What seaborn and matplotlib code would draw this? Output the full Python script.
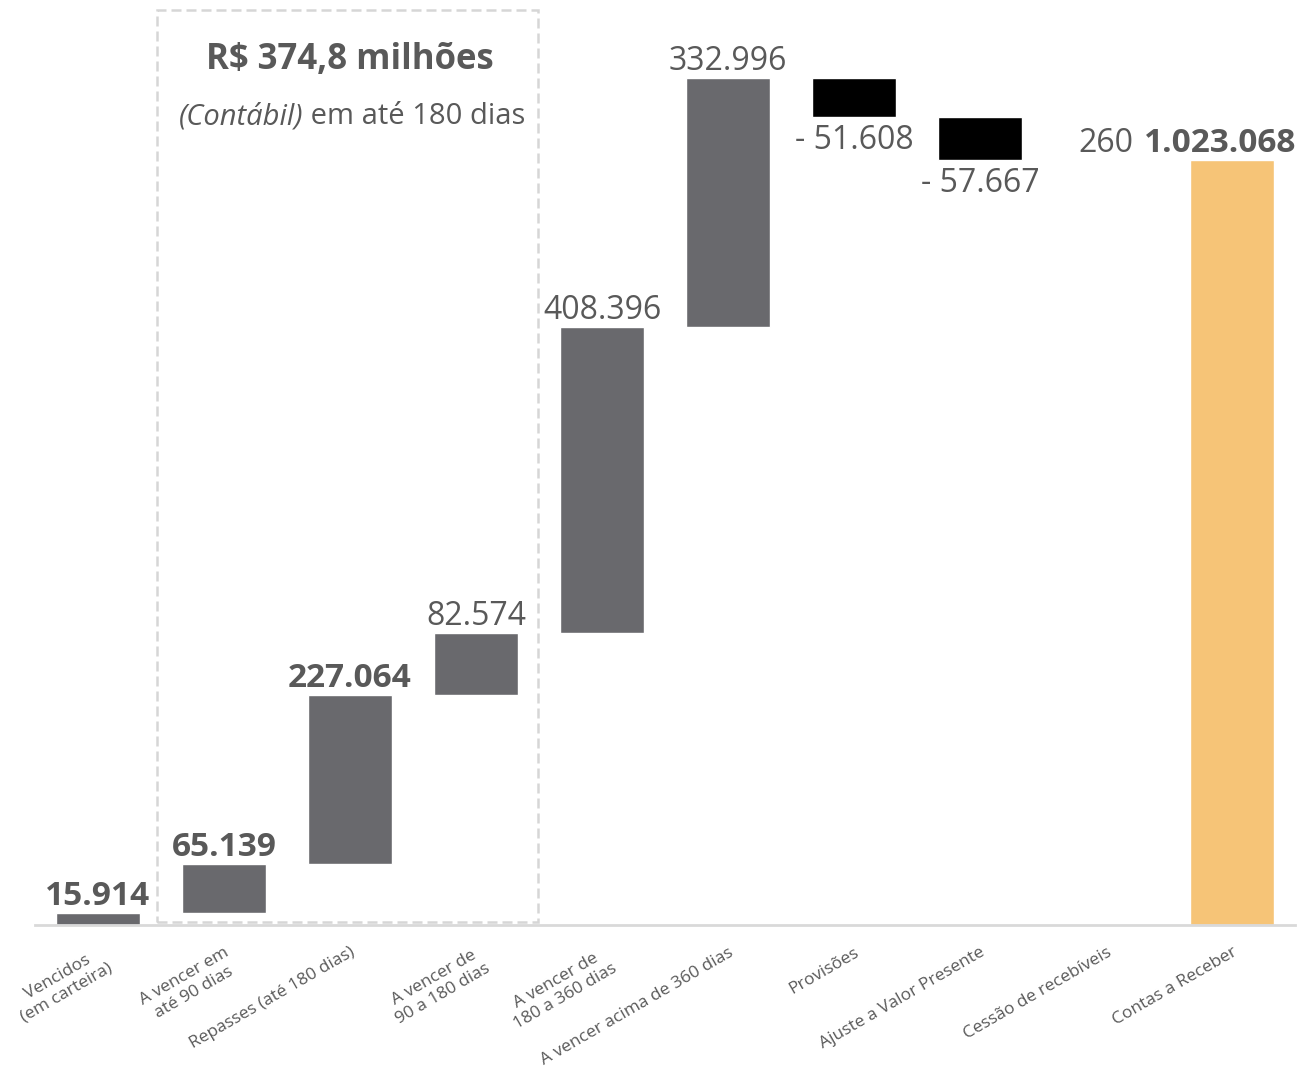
import seaborn as sns
import matplotlib.pyplot as plt
import pandas as pd

categories = ["Vencidos\n(em carteira)", "A vencer em\naté 90 dias", "Repasses (até 180 dias)",
              "A vencer de\n90 a 180 dias", "A vencer de\n180 a 360 dias", "A vencer acima de 360 dias",
              "Provisões", "Ajuste a Valor Presente", "Cessão de recebíveis", "Contas a Receber"]
values = [15914, 65139, 227064, 82574, 408396, 332996, -51608, -57667, 260, 1023068]
labels = ["15.914", "65.139", "227.064", "82.574", "408.396", "332.996",
          "- 51.608", "- 57.667", "260", "1.023.068"]
bold_labels = [True, True, True, False, False, False, False, False, False, True]
colors = ["#69696d"] * 6 + ["#000000", "#000000", "#69696d", "#f6c477"]

sns.set_style("white")
plt.rcParams["font.family"] = ["Open Sans", "DejaVu Sans"]
text_color = "#595959"

# waterfall: running bottoms / tops
bottoms, tops = [], []
run = 0
for i, v in enumerate(values):
    if i == len(values) - 1:
        bottoms.append(0)
        tops.append(v)
    else:
        bottoms.append(min(run, run + v))
        tops.append(max(run, run + v))
        run += v

df = pd.DataFrame({"cat": categories, "top": tops})

fig = plt.figure(figsize=(12.99, 10.66), dpi=100)
ax = fig.add_axes([35 / 1299, 141 / 1066, 1260 / 1299, 925 / 1066])
sns.barplot(data=df, x="cat", y="top", hue="cat", palette=colors, width=0.667,
            legend=False, ax=ax, saturation=1)

for patch, lo, hi in zip(ax.patches, bottoms, tops):
    patch.set_y(lo)
    patch.set_height(hi - lo)

ax.set_xlim(-0.5, 9.5)
ax.set_ylim(0, 1237000)

# value labels
for i, (v, lab, b) in enumerate(zip(values, labels, bold_labels)):
    weight = "bold" if b else "normal"
    size = 24 if b else 23
    if v < 0:
        ax.annotate(lab, (i, bottoms[i]), xytext=(0, -5), textcoords="offset points",
                    ha="center", va="top", fontsize=size, color=text_color, fontweight=weight)
    else:
        x = i
        if i == 9:
            x = 8.905
        ax.annotate(lab, (x, tops[i]), xytext=(0, 0), textcoords="offset points",
                    ha="center", va="bottom", fontsize=size, color=text_color, fontweight=weight)

# dashed box for 180 days
ax.add_patch(plt.Rectangle((0.468, 4000), 3.024, 1219700, fill=False, ls=(0, (4, 2)),
                           lw=1.8, edgecolor="#d6d6d6", zorder=0))
ax.text(2.0, 1157000, "R$ 374,8 milhões", ha="center", va="center", fontsize=25,
        fontweight="bold", color=text_color)
ax.text(1.63, 1081000, "(Contábil)", ha="right", va="center", fontsize=21,
        style="italic", color=text_color)
ax.text(1.63, 1081000, " em até 180 dias", ha="left", va="center", fontsize=21,
        color=text_color)

sns.despine(ax=ax, left=True)
ax.spines["bottom"].set_color("#d9d9d9")
ax.spines["bottom"].set_linewidth(2)
ax.set_yticks([])
ax.set_xlabel("")
ax.set_ylabel("")
ax.tick_params(axis="x", length=0, pad=14)
ax.set_xticks(range(len(categories)))
ax.set_xticklabels(categories, rotation=30, ha="right", rotation_mode="anchor",
                   fontsize=12.5, color=text_color, multialignment="center")

plt.savefig("out.png", dpi=100)
